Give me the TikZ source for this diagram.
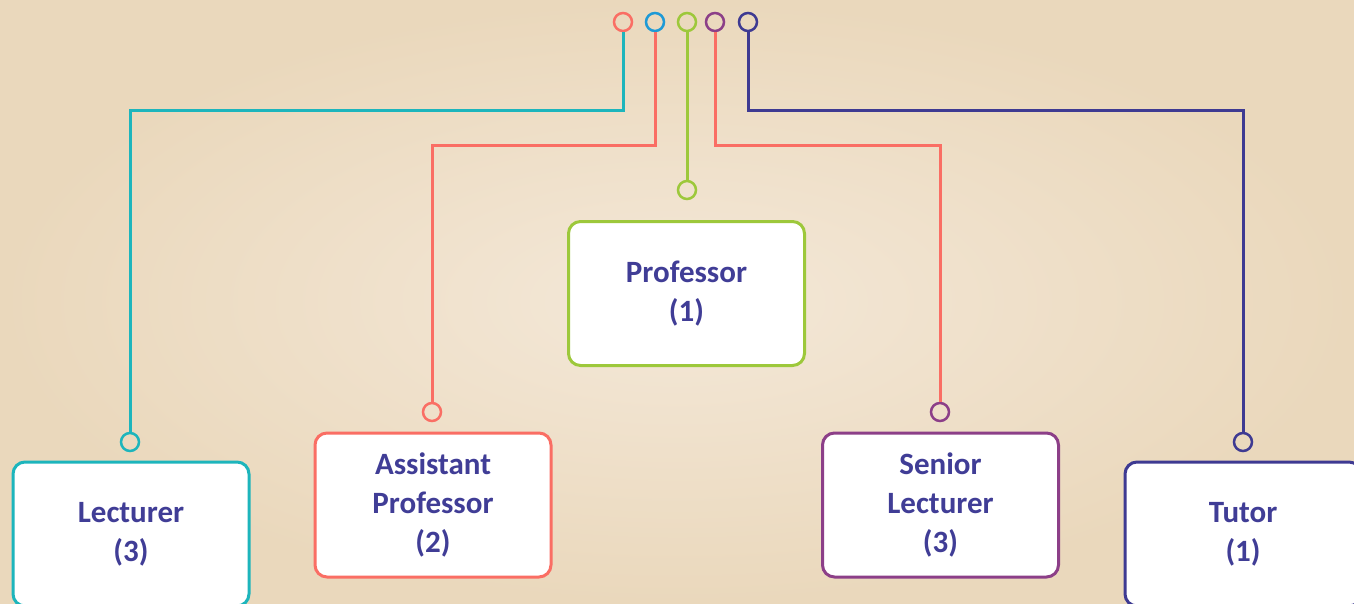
\documentclass[tikz,border=0pt]{standalone}
\usepackage{fontspec}
\setmainfont{Carlito}
\usetikzlibrary{positioning}

\definecolor{cteal}{HTML}{1DB5BC}
\definecolor{csalmon}{HTML}{FA6E64}
\definecolor{cblue}{HTML}{1E9AD6}
\definecolor{cgreen}{HTML}{9DC83B}
\definecolor{cpurple}{HTML}{8C3F88}
\definecolor{cnavy}{HTML}{3E3A92}
\definecolor{ctext}{HTML}{403D96}
\definecolor{bglight}{HTML}{F4E8D8}
\definecolor{bgdark}{HTML}{EAD8BC}

\begin{document}
\begin{tikzpicture}[x=1pt,y=-1pt,line width=3pt]
  \tikzstyle{box}=[draw,rounded corners=12pt,fill=white,minimum width=236pt,
                   minimum height=144pt,align=center,text=ctext,
                   font=\fontsize{31}{39}\selectfont\bfseries]
  \tikzstyle{ring}=[draw,circle,minimum size=18pt,inner sep=0pt,line width=2.5pt]

  \clip (0,0) rectangle (1354,603);
  \shade[inner color=bglight,outer color=bgdark] (0,0) rectangle (1354,603);

  % top row of rings
  \node[ring,draw=csalmon] (t1) at (623,22) {};
  \node[ring,draw=cblue]   (t2) at (655,22) {};
  \node[ring,draw=cgreen]  (t3) at (687,22) {};
  \node[ring,draw=cpurple] (t4) at (715,22) {};
  \node[ring,draw=cnavy]   (t5) at (748,22) {};

  \node[box,draw=cteal]   (lect) at (131,534)     {Lecturer\\(3)};
  \node[box,draw=csalmon] (asst) at (433,505)     {Assistant\\Professor\\(2)};
  \node[box,draw=cgreen]  (prof) at (686.5,293.5) {Professor\\(1)};
  \node[box,draw=cpurple] (senr) at (940.5,505)   {Senior\\Lecturer\\(3)};
  \node[box,draw=cnavy]   (tutr) at (1243,534)    {Tutor\\(1)};

  % rings over the boxes
  \node[ring,draw=cteal]   (p1) at (130,442)  {};
  \node[ring,draw=csalmon] (p2) at (432,412)  {};
  \node[ring,draw=cgreen]  (p3) at (687,190)  {};
  \node[ring,draw=cpurple] (p4) at (940,412)  {};
  \node[ring,draw=cnavy]   (p5) at (1243,442) {};

  \draw[cteal]   (t1) -- (t1 |- 0,110) -| (p1);
  \draw[csalmon] (t2) -- (t2 |- 0,145) -| (p2);
  \draw[cgreen]  (t3) -- (p3);
  \draw[csalmon] (t4) -- (t4 |- 0,145) -| (p4);
  \draw[cnavy]   (t5) -- (t5 |- 0,110) -| (p5);
\end{tikzpicture}
\end{document}
